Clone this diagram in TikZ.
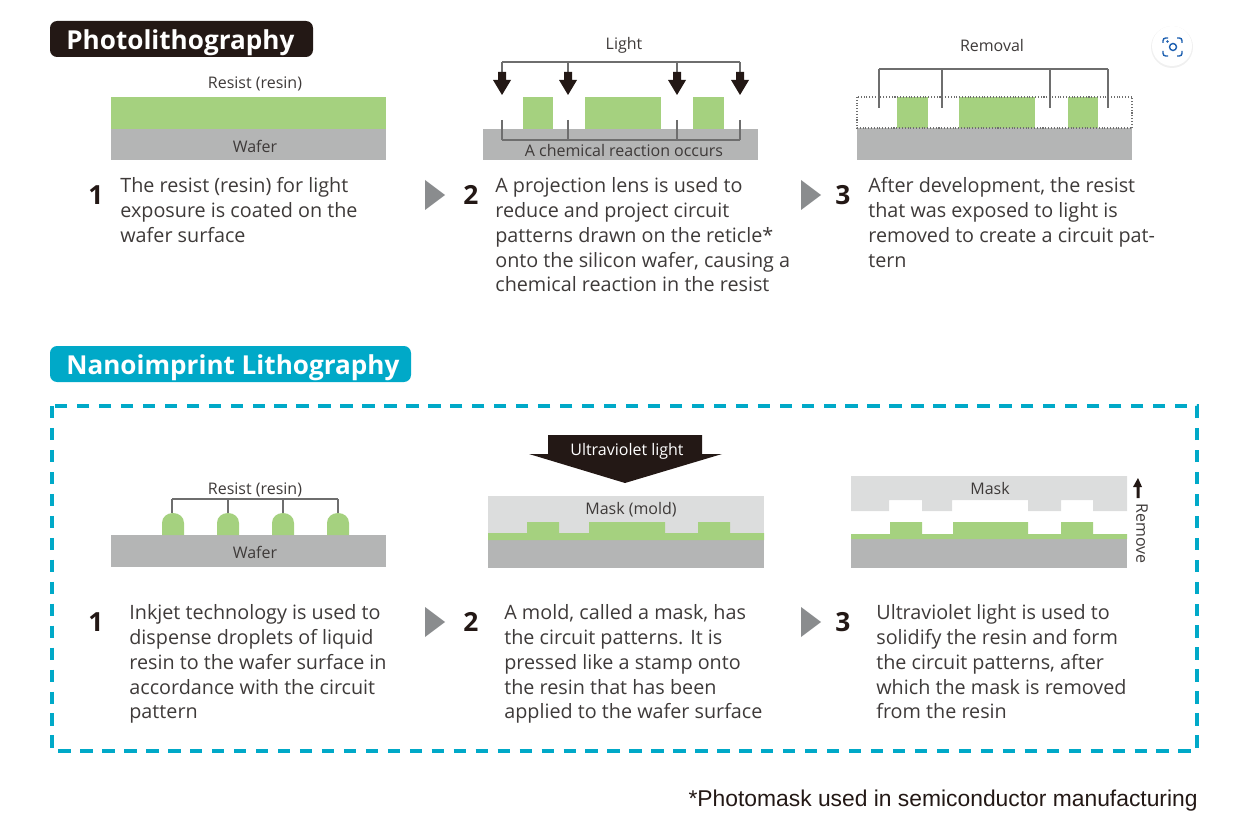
\documentclass[tikz,border=0pt]{standalone}
\usepackage{fontspec}
\setmainfont{Open Sans}
\newfontfamily\notefont{Liberation Sans}
\usetikzlibrary{arrows.meta,calc}
\definecolor{waferGray}{HTML}{B4B5B5}
\definecolor{maskGray}{HTML}{DCDDDD}
\definecolor{resistGreen}{HTML}{A5D17F}
\definecolor{inkDark}{HTML}{231815}
\definecolor{textDark}{HTML}{3E3A39}
\definecolor{wireGray}{HTML}{6E6E6E}
\definecolor{stepGray}{HTML}{8A8C8E}
\definecolor{nanoBlue}{HTML}{00A9C8}
\definecolor{iconBlue}{HTML}{1C5FB0}
\tikzset{
  body/.style={anchor=north west, align=left, inner sep=0pt, text=textDark,
    font=\fontsize{11.25}{14.17}\selectfont},
  partlabel/.style={inner sep=0pt, yshift=-0.2pt, text=textDark, font=\fontsize{9.1}{11}\selectfont},
  stepnum/.style={inner sep=0pt, text=inkDark, font=\fontsize{15}{18}\selectfont\bfseries},
  headline/.style={anchor=west, inner sep=0pt, text=white, font=\fontsize{14.85}{18}\selectfont\bfseries},
  wire/.style={draw=wireGray, line width=0.7pt},
}
\begin{document}
\begin{tikzpicture}[x=0.02cm, y=-0.02cm]
  \useasboundingbox (0,0) rectangle (1241,814);
  % Headings
  \fill[inkDark, rounded corners=4pt] (50,21) rectangle (313,57);
  \node[headline] (photoTitle) at (66,43) {Photolithography};
  \fill[nanoBlue, rounded corners=4pt] (50,346) rectangle (411,382);
  \node[headline] (nanoTitle) at (66,368) {Nanoimprint Lithography};
  % Dashed frame
  \draw[nanoBlue, line width=2.3pt, dash pattern=on 7pt off 5.5pt] (52,406) rectangle (1197,751);
  % Scan icon
  \fill[black!6] (1172,47) circle (21);
  \fill[white] (1172,46) circle (20);
  \draw[iconBlue, line width=0.8pt, rounded corners=1.5pt]
    (1163,43) -- (1163,38) -- (1168,38) (1177,38) -- (1182,38) -- (1182,43)
    (1182,51) -- (1182,56) -- (1177,56) (1168,56) -- (1163,56) -- (1163,51);
  \draw[iconBlue, line width=0.8pt] (1173,47) circle (3.5);
  \fill[iconBlue] (1167.5,41.5) circle (1.3);

  % Photolithography 1
  \fill[waferGray] (111,129) rectangle (386,160);
  \fill[resistGreen] (111,97) rectangle (386,129);
  \node[partlabel] (resistOne) at (255,84) {Resist (resin)};
  \node[partlabel] (waferOne) at (255,146) {Wafer};
  \node[stepnum] (numOne) at (96,195) {1};
  \node[body] (textOne) at (120,177) {The resist (resin) for light\\exposure is coated on the\\wafer surface};

  % Photolithography 2
  \fill[stepGray] (425,180) -- (445,195) -- (425,210) -- cycle;
  \fill[waferGray] (483,129) rectangle (758,160);
  \foreach \blockl/\blockr in {523/553, 585/661, 693/724}
    \fill[resistGreen] (\blockl,97) rectangle (\blockr,129);
  \node[partlabel] (lightLabel) at (624,45) {Light};
  \coordinate (lightL) at (502,62);
  \coordinate (lightR) at (740,62);
  \draw[wire] (lightL) -- (lightR);
  \foreach \lightx in {502,568,677,740} {
    \coordinate (top\lightx) at (\lightx,62);
    \coordinate (tip\lightx) at (\lightx,95);
    \coordinate (low\lightx) at (\lightx,140);
    \coordinate (mark\lightx) at (\lightx,120);
    \draw[wire] (top\lightx) -- ($(tip\lightx)+(0,-20)$);
    \fill[inkDark] (\lightx-4,72) -- (\lightx+4,72) -- (\lightx+4,80) -- (\lightx+9,80)
      -- (tip\lightx) -- (\lightx-9,80) -- (\lightx-4,80) -- cycle;
    \draw[wire] (mark\lightx) -- (low\lightx);
  }
  \draw[wire] (low502) -- (low740);
  \node[partlabel] (reactionLabel) at (624,150) {A chemical reaction occurs};
  \node[stepnum] (numTwo) at (471,195) {2};
  \node[body] (textTwo) at (495,177) {A projection lens is used to\\reduce and project circuit\\patterns drawn on the reticle*\\onto the silicon wafer, causing a\\chemical reaction in the resist};

  % Photolithography 3
  \fill[stepGray] (801,180) -- (821,195) -- (801,210) -- cycle;
  \fill[waferGray] (857,128) rectangle (1132,160);
  \foreach \blockl/\blockr in {897/928, 959/1035, 1068/1098}
    \fill[resistGreen] (\blockl,97) rectangle (\blockr,128);
  \draw[wireGray, line width=0.6pt, densely dotted] (857,97) rectangle (1132,128);
  \node[partlabel] (removalLabel) at (992,45) {Removal};
  \coordinate (removeL) at (879,69);
  \coordinate (removeR) at (1108,69);
  \draw[wire] (removeL) -- (removeR);
  \foreach \removex in {879,942,1050,1108} {
    \coordinate (rtop\removex) at (\removex,69);
    \coordinate (rlow\removex) at (\removex,108);
    \draw[wire] (rtop\removex) -- (rlow\removex);
  }
  \node[stepnum] (numThree) at (843,195) {3};
  \node[body] (textThree) at (868,177) {After development, the resist\\that was exposed to light is\\removed to create a circuit pat-\\tern};

  % Nanoimprint 1
  \fill[waferGray] (111,535) rectangle (386,567);
  \foreach \dropx in {162,217,272,327}
    \fill[resistGreen, shift={(\dropx,0)}] (0,535) -- (0,523) .. controls (0,517) and (5,513) .. (11,513)
      .. controls (17,513) and (22,517) .. (22,523) -- (22,535) -- cycle;
  \coordinate (dropL) at (172,499);
  \coordinate (dropR) at (338,499);
  \draw[wire] (dropL) -- (dropR);
  \foreach \dropx in {172,228,283,338} {
    \coordinate (dtop\dropx) at (\dropx,499);
    \coordinate (dlow\dropx) at (\dropx,513);
    \draw[wire] (dtop\dropx) -- (dlow\dropx);
  }
  \node[partlabel] (resistTwo) at (255,490) {Resist (resin)};
  \node[partlabel] (waferTwo) at (255,552) {Wafer};
  \node[stepnum] (numFour) at (96,622) {1};
  \node[body] (textFour) at (129,604) {Inkjet technology is used to\\dispense droplets of liquid\\resin to the wafer surface in\\accordance with the circuit\\pattern};

  % Nanoimprint 2
  \fill[stepGray] (425,607) -- (445,622) -- (425,637) -- cycle;
  \fill[inkDark] (548,435) -- (702,435) -- (702,454) -- (722,454) -- (625,483) -- (529,454) -- (548,454) -- cycle;
  \node[partlabel, text=white] (uvLabel) at (627,451) {Ultraviolet light};
  \fill[maskGray] (488,496) rectangle (764,534);
  \fill[waferGray] (488,540) rectangle (764,568);
  \fill[resistGreen] (488,540) -- (488,533) -- (527,533) -- (527,522) -- (559,522) -- (559,533)
    -- (589,533) -- (589,522) -- (665,522) -- (665,533) -- (698,533) -- (698,522) -- (730,522)
    -- (730,533) -- (764,533) -- (764,540) -- cycle;
  \node[partlabel] (moldLabel) at (631,509) {Mask (mold)};
  \node[stepnum] (numFive) at (471,622) {2};
  \node[body] (textFive) at (504,604) {A mold, called a mask, has\\the circuit patterns. It is\\pressed like a stamp onto\\the resin that has been\\applied to the wafer surface};

  % Nanoimprint 3
  \fill[stepGray] (801,607) -- (821,622) -- (801,637) -- cycle;
  \fill[maskGray] (851,476) -- (1127,476) -- (1127,511) -- (1093,511) -- (1093,500) -- (1061,500)
    -- (1061,511) -- (1028,511) -- (1028,500) -- (952,500) -- (952,511) -- (922,511) -- (922,500)
    -- (889,500) -- (889,511) -- (851,511) -- cycle;
  \fill[waferGray] (851,539) rectangle (1127,568);
  \fill[resistGreen] (851,539) -- (851,534) -- (890,534) -- (890,522) -- (922,522) -- (922,534)
    -- (953,534) -- (953,522) -- (1028,522) -- (1028,534) -- (1061,534) -- (1061,522) -- (1093,522)
    -- (1093,534) -- (1127,534) -- (1127,539) -- cycle;
  \node[partlabel] (maskLabel) at (990,488) {Mask};
  \node[partlabel, rotate=-90] (removeLabel) at (1142,533) {Remove};
  \fill[inkDark] (1136.5,498) -- (1136.5,487) -- (1133,487) -- (1138,478) -- (1142,487) -- (1139.5,487) -- (1139.5,498) -- cycle;
  \node[stepnum] (numSix) at (843,622) {3};
  \node[body] (textSix) at (876,604) {Ultraviolet light is used to\\solidify the resin and form\\the circuit patterns, after\\which the mask is removed\\from the resin};

  % Footnote
  \node[anchor=east, inner sep=0pt, text=inkDark, font=\notefont\fontsize{13}{15}\selectfont] (noteText) at (1198,801) {*Photomask used in semiconductor manufacturing};
\end{tikzpicture}
\end{document}
